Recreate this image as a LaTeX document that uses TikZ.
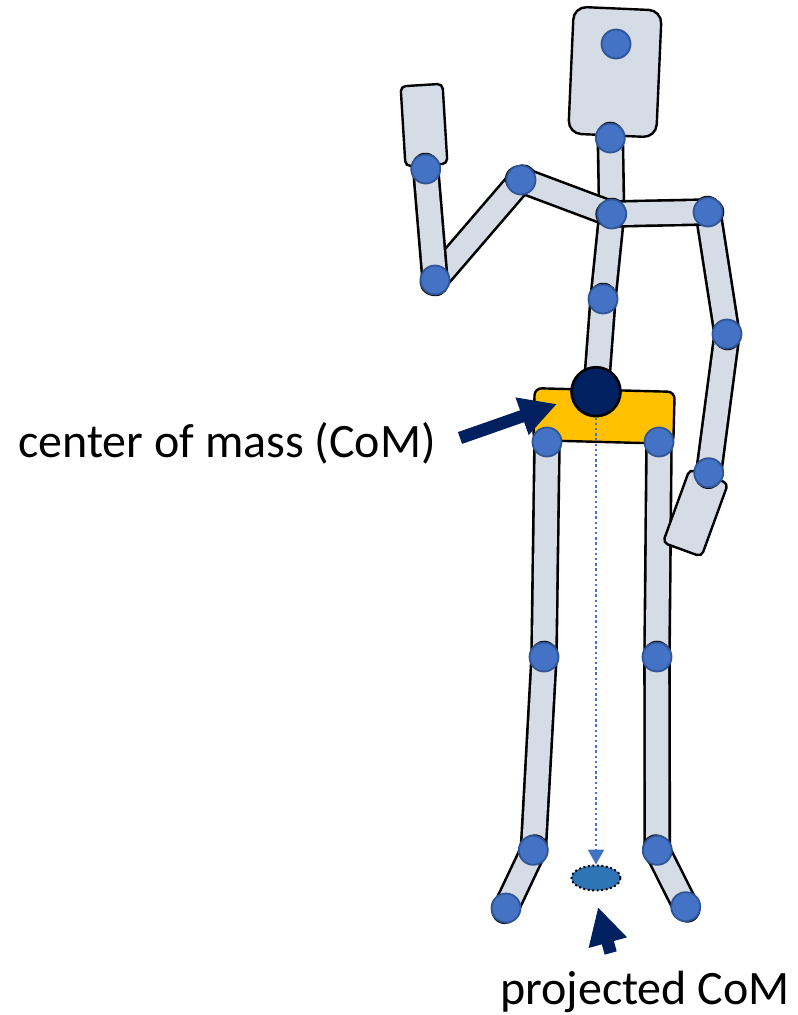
\documentclass[tikz,border=0pt]{standalone}
\usepackage{fontspec}
\setmainfont{Carlito}
\usetikzlibrary{arrows.meta,backgrounds,shapes.geometric}
\definecolor{limbgray}{HTML}{D6DCE5}
\definecolor{jointblue}{HTML}{4472C4}
\definecolor{jointedge}{HTML}{2F5597}
\definecolor{navy}{HTML}{002060}
\definecolor{pelvisgold}{HTML}{FFC000}
\definecolor{spotblue}{HTML}{2E75B6}
\tikzset{
	joint/.style = {circle, fill=jointblue, draw=jointedge, line width=1.8pt, minimum size=29pt, inner sep=0pt},
	limb/.style = {draw=black, line width=2.6pt, double=limbgray, double distance=22.4pt, line cap=round, shorten >=-2.5pt, shorten <=-2.5pt},
	plate/.style = {draw=black, fill=limbgray, line width=2.4pt, inner sep=0pt},
	pointer/.style = {navy, line width=12.5pt, -{Triangle[length=37pt,width=37pt]}},
	caption/.style = {font=\fontsize{48}{50}\selectfont, inner sep=0pt}
}
\begin{document}
\begin{tikzpicture}[x=1pt, y=-1pt]
\useasboundingbox (0,0) rectangle (798,1015);
\foreach \name/\x/\y in {
	headtop/616/44, neck/610.3/138, chest/611.7/214, spine/603/299,
	lelbow/521/180, lwrist/435/280, lhand/425.7/169,
	rshoulder/708/212, relbow/727/334, rhand/708.7/472.7,
	lhip/547/442, rhip/659/442, lknee/544/657, rknee/657/657,
	lankle/533.3/850.3, rankle/657.3/850.3, ltoe/506/908, rtoe/685.7/906.7} {
	\node[joint] (\name) at (\x,\y) {};
}
\node[circle, fill=navy, draw=black, line width=2.6pt, minimum size=49pt, inner sep=0pt] (com) at (596,391.7) {};
\node[ellipse, fill=spotblue, draw=black, dash pattern=on 2pt off 2.5pt, line width=2pt, minimum width=49pt, minimum height=25pt, inner sep=0pt] (spot) at (596,878) {};

\begin{scope}[on background layer]
\node[plate, rounded corners=13pt, minimum width=88pt, minimum height=127pt, rotate=-2.5] (headbox) at (615,72) {};
\node[plate, rounded corners=5pt, minimum width=42pt, minimum height=80pt, rotate=3.5] (lpalm) at (424,125) {};
\foreach \a/\b in {lhip/lknee, lknee/lankle, lankle/ltoe, rhip/rknee, rknee/rankle, rankle/rtoe} {
	\draw[limb] (\a.center) -- (\b.center);
}
\node[plate, rounded corners=5pt, minimum width=41pt, minimum height=78pt, rotate=-20] (rpalm) at (695.5,513) {};
\foreach \a/\b in {neck/chest, chest/spine, spine/com, lwrist/lelbow, lelbow/chest, lhand/lwrist,
	relbow/rhand, rshoulder/relbow, chest/rshoulder} {
	\draw[limb] (\a.center) -- (\b.center);
}
\node[plate, fill=pelvisgold, rounded corners=7pt, minimum width=140pt, minimum height=52pt, rotate=-1.5] (pelvis) at (604,416) {};
\end{scope}

\draw[jointblue, line width=2.4pt, dash pattern=on 2.4pt off 2.8pt, -{Triangle[length=15pt,width=16pt]}] (com.south) -- (spot.north);

\node[caption, anchor=west] (comlabel) at (18,443) {center of mass (CoM)};
\node[caption, anchor=east] (spotlabel) at (790,992) {projected CoM};

\coordinate (comtail) at (460,438);
\coordinate (comtip) at (557,404);
\coordinate (spottail) at (610.7,953);
\coordinate (spottip) at (598,907);
\draw[pointer] (comtail) -- (comtip);
\draw[pointer] (spottail) -- (spottip);
\end{tikzpicture}
\end{document}
